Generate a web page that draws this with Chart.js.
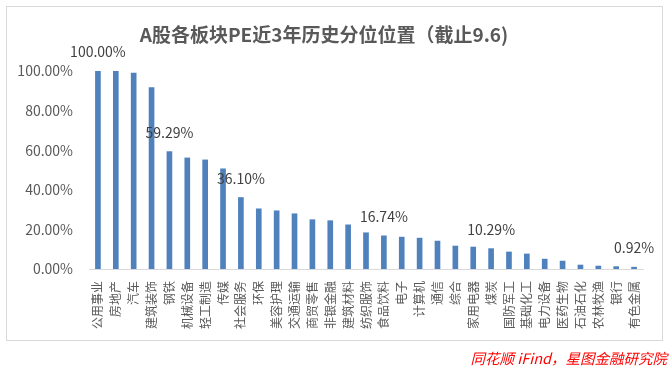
<!DOCTYPE html>
<html lang="zh-CN">
<head>
    <meta charset="UTF-8">
    <title>A股各板块PE近3年历史分位位置</title>
    <script src="https://cdn.jsdelivr.net/npm/chart.js@4/dist/chart.umd.min.js"></script>
    <style>
        * {
            margin: 0;
            padding: 0;
            box-sizing: border-box;
        }

        body {
            background: #ffffff;
            width: 672px;
            height: 370px;
            overflow: hidden;
        }

        .chart-box {
            position: relative;
            width: 672px;
            height: 370px;
        }
    </style>
</head>
<body>
    <div class="chart-box">
        <canvas id="peChart"></canvas>
    </div>

    <script>
        // Data (percentile, %)
        const sectors = ['公用事业', '房地产', '汽车', '建筑装饰', '钢铁', '机械设备', '轻工制造', '传媒',
            '社会服务', '环保', '美容护理', '交通运输', '商贸零售', '非银金融', '建筑材料', '纺织服饰',
            '食品饮料', '电子', '计算机', '通信', '综合', '家用电器', '煤炭', '国防军工', '基础化工',
            '电力设备', '医药生物', '石油石化', '农林牧渔', '银行', '有色金属'];
        const percentiles = [100.00, 99.8, 98.9, 91.6, 59.29, 56.1, 55.1, 50.6,
            36.10, 30.4, 29.4, 27.9, 24.9, 24.4, 22.3, 18.3,
            16.74, 16.1, 15.6, 14.1, 11.6, 11.1, 10.29, 8.6, 7.6,
            5.0, 4.0, 2.0, 1.5, 1.2, 0.92];
        // bars that carry a value label
        const labeledBars = [0, 4, 8, 16, 22, 30];
        const yTicks = [0, 20, 40, 60, 80, 100];

        const titleText = 'A股各板块PE近3年历史分位位置（截止9.6)';
        const sourceText = '同花顺 iFind，星图金融研究院';

        const fontFamily = '"Noto Sans CJK SC", "Noto Sans", sans-serif';

        // Frame, title, source note and value labels
        const decorPlugin = {
            id: 'decor',
            beforeDraw(chart) {
                const ctx = chart.ctx;
                ctx.save();
                ctx.strokeStyle = '#d9d9d9';
                ctx.lineWidth = 1;
                ctx.strokeRect(6.5, 6.5, 656, 334);
                ctx.restore();
            },
            afterDraw(chart) {
                const ctx = chart.ctx;
                ctx.save();

                ctx.fillStyle = '#595959';
                ctx.font = 'bold 19px ' + fontFamily;
                ctx.textAlign = 'center';
                ctx.textBaseline = 'middle';
                ctx.fillText(titleText, 324, 35);

                ctx.fillStyle = '#ff0000';
                ctx.font = 'italic 14.5px ' + fontFamily;
                ctx.textAlign = 'right';
                ctx.fillText(sourceText, 667, 358);

                const meta = chart.getDatasetMeta(0);
                ctx.fillStyle = '#404040';
                ctx.font = '14px ' + fontFamily;
                ctx.textAlign = 'center';
                labeledBars.forEach(i => {
                    const bar = meta.data[i];
                    ctx.fillText(percentiles[i].toFixed(2) + '%', bar.x, bar.y - 19);
                });

                ctx.restore();
            }
        };

        new Chart(document.getElementById('peChart'), {
            type: 'bar',
            data: {
                labels: sectors,
                datasets: [{
                    data: percentiles,
                    backgroundColor: '#4f81bd',
                    barThickness: 5
                }]
            },
            options: {
                responsive: true,
                maintainAspectRatio: false,
                animation: false,
                layout: {
                    padding: { top: 71, right: 29, bottom: 0, left: 0 }
                },
                plugins: {
                    legend: { display: false },
                    tooltip: { enabled: false }
                },
                scales: {
                    x: {
                        grid: { display: false, drawTicks: false },
                        border: { color: '#d9d9d9', width: 1 },
                        ticks: {
                            color: '#595959',
                            font: { family: fontFamily, size: 12 },
                            minRotation: 90,
                            maxRotation: 90,
                            autoSkip: false,
                            padding: 12
                        },
                        afterFit(scale) {
                            scale.height = 101;
                        }
                    },
                    y: {
                        min: 0,
                        max: 100,
                        grid: { display: false, drawTicks: false },
                        border: { display: false },
                        afterBuildTicks(scale) {
                            scale.ticks = yTicks.map(v => ({ value: v }));
                        },
                        ticks: {
                            color: '#595959',
                            font: { family: fontFamily, size: 14 },
                            padding: 16,
                            callback: v => v.toFixed(2) + '%'
                        },
                        afterFit(scale) {
                            scale.width = 89;
                        }
                    }
                }
            },
            plugins: [decorPlugin]
        });
    </script>
</body>
</html>
